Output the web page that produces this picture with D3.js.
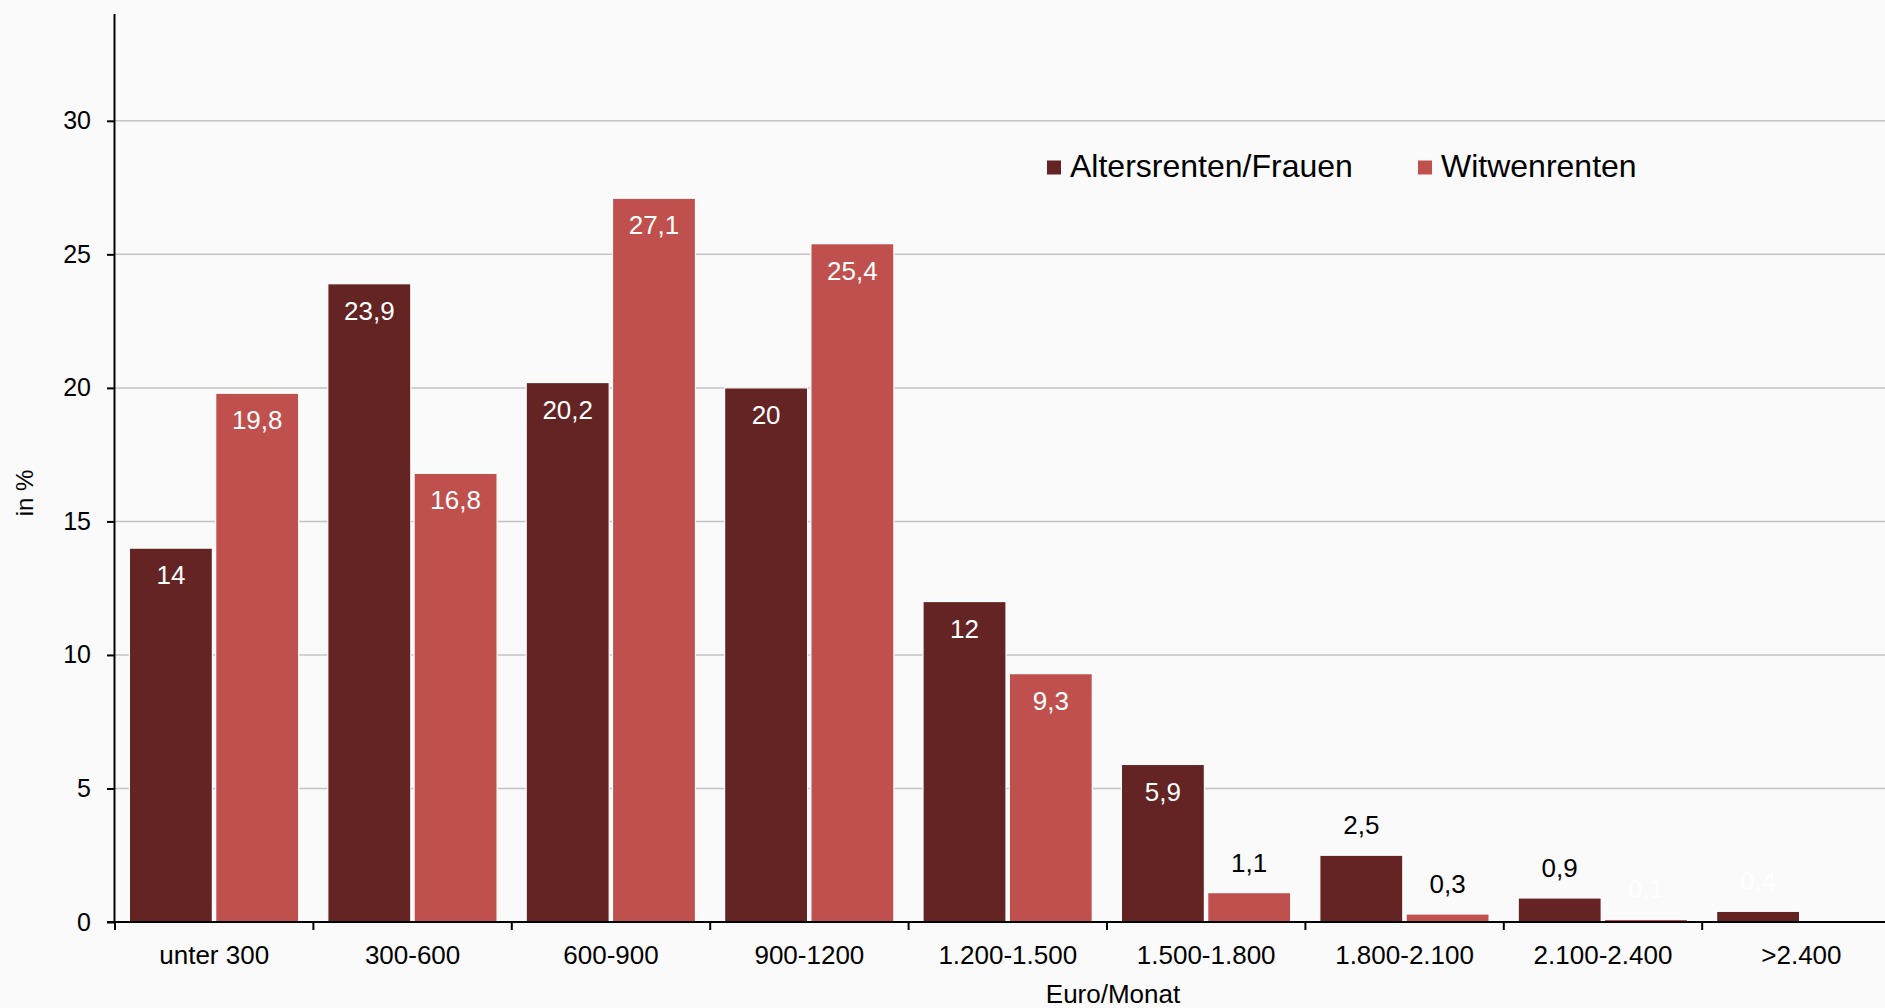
<!DOCTYPE html>
<html>
<head>
<meta charset="utf-8">
<script src="https://cdn.jsdelivr.net/npm/d3@7"></script>
<style>
  html, body { margin: 0; padding: 0; background: #fafafa; }
  svg { display: block; font-family: "Liberation Sans", Arial, sans-serif; }
</style>
</head>
<body>
<div id="chart"></div>
<script>
// data
const categories = ["unter 300", "300-600", "600-900", "900-1200", "1.200-1.500",
  "1.500-1.800", "1.800-2.100", "2.100-2.400", ">2.400"];
const seriesNames = ["Altersrenten/Frauen", "Witwenrenten"];
const altersrenten = [14, 23.9, 20.2, 20, 12, 5.9, 2.5, 0.9, 0.4];
const witwenrenten = [19.8, 16.8, 27.1, 25.4, 9.3, 1.1, 0.3, 0.1, null];
const yTicks = [0, 5, 10, 15, 20, 25, 30];
// labels Excel left in white next to the axis
const whiteSmallLabels = ["0,1", "0,4"];

const colors = { "Altersrenten/Frauen": "#632423", "Witwenrenten": "#c0504d" };

const width = 1885, height = 1008;
const margin = { top: 14, left: 115, bottom: 86 };
const bandStep = 198.4;

const svg = d3.select("#chart").append("svg")
  .attr("width", width)
  .attr("height", height);

const x0 = d3.scaleBand()
  .domain(categories)
  .range([margin.left, margin.left + bandStep * categories.length])
  .padding(0);

const x1 = d3.scaleBand()
  .domain(seriesNames)
  .range([14.4, 183.7])
  .paddingInner(0.038);

const y = d3.scaleLinear()
  .domain([0, 34])
  .range([height - margin.bottom, margin.top]);

// gridlines
svg.append("g")
  .selectAll("line")
  .data(yTicks.filter((d) => d > 0))
  .join("line")
  .attr("x1", margin.left)
  .attr("x2", width)
  .attr("y1", (d) => y(d))
  .attr("y2", (d) => y(d))
  .attr("stroke", "#c4c4c4")
  .attr("stroke-width", 1.5);

const rows = categories.map((c, i) => ({
  category: c,
  values: [
    { series: seriesNames[0], value: altersrenten[i] },
    { series: seriesNames[1], value: witwenrenten[i] },
  ].filter((d) => d.value != null),
}));

const fmt = (v) => String(v).replace(".", ",");

const group = svg.append("g")
  .selectAll("g")
  .data(rows)
  .join("g")
  .attr("transform", (d) => `translate(${x0(d.category)},0)`);

group.selectAll("rect")
  .data((d) => d.values)
  .join("rect")
  .attr("x", (d) => x1(d.series))
  .attr("width", x1.bandwidth())
  .attr("y", (d) => y(d.value))
  .attr("height", (d) => y(0) - y(d.value))
  .attr("fill", (d) => colors[d.series])
  .attr("stroke", "#ffffff")
  .attr("stroke-width", 1.2);

// value labels: inside the bar when it is tall enough, above otherwise
group.selectAll("text")
  .data((d) => d.values)
  .join("text")
  .attr("x", (d) => x1(d.series) + x1.bandwidth() / 2)
  .attr("y", (d) => (d.value > 5 ? y(d.value) + 27 : y(d.value) - 30))
  .attr("dy", "0.35em")
  .attr("text-anchor", "middle")
  .attr("font-size", 26)
  .attr("fill", (d) => {
    const t = fmt(d.value);
    if (d.value > 5 || whiteSmallLabels.includes(t)) return "#ffffff";
    return "#000000";
  })
  .text((d) => fmt(d.value));

// y axis
const yAxis = svg.append("g")
  .attr("transform", `translate(${margin.left},0)`)
  .call(d3.axisLeft(y).tickValues(yTicks).tickSize(8).tickPadding(16));
yAxis.select(".domain")
  .attr("d", `M-0.5,${y(0)}V${margin.top}`)
  .attr("stroke", "#000")
  .attr("stroke-width", 2);
yAxis.selectAll(".tick line").attr("stroke", "#000").attr("stroke-width", 2);
yAxis.selectAll(".tick text")
  .attr("font-size", 25)
  .attr("font-family", "Liberation Sans, Arial, sans-serif")
  .attr("fill", "#000");

// x axis
const xAxis = svg.append("g")
  .attr("transform", `translate(0,${y(0)})`);
xAxis.append("line")
  .attr("x1", margin.left - 8)
  .attr("x2", width)
  .attr("stroke", "#000")
  .attr("stroke-width", 2);
xAxis.selectAll(".xtick")
  .data(categories)
  .join("line")
  .attr("class", "xtick")
  .attr("x1", (d) => x0(d))
  .attr("x2", (d) => x0(d))
  .attr("y1", 0)
  .attr("y2", 8)
  .attr("stroke", "#000")
  .attr("stroke-width", 2);
xAxis.selectAll(".xlabel")
  .data(categories)
  .join("text")
  .attr("class", "xlabel")
  .attr("x", (d) => x0(d) + bandStep / 2)
  .attr("y", 42)
  .attr("text-anchor", "middle")
  .attr("font-size", 26)
  .attr("fill", "#000")
  .text((d) => d);

// axis titles
svg.append("text")
  .attr("transform", `translate(33,${(y(0) + y(34)) / 2 + 25}) rotate(-90)`)
  .attr("text-anchor", "middle")
  .attr("font-size", 24)
  .text("in %");

svg.append("text")
  .attr("x", 1113)
  .attr("y", 1003)
  .attr("text-anchor", "middle")
  .attr("font-size", 26)
  .text("Euro/Monat");

// legend
const legend = svg.append("g").attr("transform", "translate(1047,177)");
const legendItems = legend.selectAll("g")
  .data(seriesNames)
  .join("g")
  .attr("transform", (d, i) => `translate(${i * 371},0)`);
legendItems.append("rect")
  .attr("x", 0)
  .attr("y", -16.5)
  .attr("width", 14)
  .attr("height", 14)
  .attr("fill", (d) => colors[d]);
legendItems.append("text")
  .attr("x", 23)
  .attr("font-size", 32)
  .attr("fill", "#000")
  .text((d) => d);
</script>
</body>
</html>
